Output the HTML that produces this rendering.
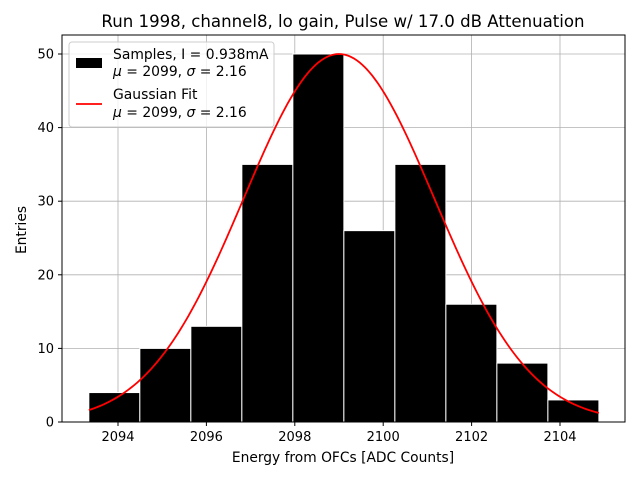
<!DOCTYPE html>
<html><head><meta charset="utf-8"><style>
body{margin:0;background:#fff}
svg text{font-family:"DejaVu Sans","Liberation Sans",sans-serif;fill:#000}
</style></head><body>
<svg id="c" width="640" height="480" xmlns="http://www.w3.org/2000/svg">
<rect width="640" height="480" fill="#fff"/>
<text x="343" y="27" font-size="16.6" text-anchor="middle">Run 1998, channel8, lo gain, Pulse w/ 17.0 dB Attenuation</text>
<g id="grid"></g>
<g id="bars"></g>
<path id="fit" fill="none" stroke="#ff0000" stroke-width="1.8"/>
<rect x="62" y="35" width="563" height="387" fill="none" stroke="#000" stroke-width="1"/>
<g id="ticks"></g>
<text x="343" y="462" font-size="13.8" text-anchor="middle">Energy from OFCs [ADC Counts]</text>
<text transform="translate(26,230) rotate(-90)" font-size="13.8" text-anchor="middle">Entries</text>
<g>
<rect x="69" y="42" width="205" height="85" rx="3" fill="#fff" fill-opacity="0.8" stroke="#ccc"/>
<rect x="76" y="58" width="26" height="10" fill="#000"/>
<text x="113" y="59" font-size="13.9">Samples, I = 0.938mA</text>
<text x="113" y="76" font-size="13.9"><tspan font-style="italic">μ</tspan> = 2099, <tspan font-style="italic">σ</tspan> = 2.16</text>
<line x1="76" y1="104" x2="102" y2="104" stroke="#ff0000" stroke-width="1.8"/>
<text x="113" y="99" font-size="13.9">Gaussian Fit</text>
<text x="113" y="117" font-size="13.9"><tspan font-style="italic">μ</tspan> = 2099, <tspan font-style="italic">σ</tspan> = 2.16</text>
</g>
</svg>
<script>
const binStart = 2093.34;
const binWidth = 1.154;
const counts = [4,10,13,35,50,26,35,16,8,3];
const xTicks = [2094,2096,2098,2100,2102,2104];
const yTicks = [0,10,20,30,40,50];
const fitMean = 2099;
const fitSigma = 2.16;
const fitAmp = 50;
function X(v){return 118+(v-2094)*44.2;}
function Y(v){return 422-v*7.36;}
const NS="http://www.w3.org/2000/svg";
function mk(t,a,p){const e=document.createElementNS(NS,t);for(const k in a)e.setAttribute(k,a[k]);p.appendChild(e);return e;}
const grid=document.getElementById('grid'),bars=document.getElementById('bars'),ticks=document.getElementById('ticks');
xTicks.forEach(t=>{
 const g=mk('line',{x1:X(t),x2:X(t),y1:35,y2:422,stroke:'#b0b0b0','stroke-width':0.8},grid);
 
 
 mk('line',{x1:X(t),x2:X(t),y1:422,y2:426,stroke:'#000'},ticks);
 const l=mk('text',{x:X(t),y:441,'font-size':13,'text-anchor':'middle'},ticks);l.textContent=t;
 
 
});
yTicks.forEach(t=>{
 const g=mk('line',{x1:62,x2:625,y1:Y(t),y2:Y(t),stroke:'#b0b0b0','stroke-width':0.8},grid);
 
 
 mk('line',{x1:58,x2:62,y1:Y(t),y2:Y(t),stroke:'#000'},ticks);
 const l=mk('text',{x:54,y:Y(t)+4.5,'font-size':13,'text-anchor':'end'},ticks);l.textContent=t;
 
 
});
counts.forEach((c,i)=>{
 const x0=X(binStart+i*binWidth),x1=X(binStart+(i+1)*binWidth);
 const r=mk('rect',{x:x0,y:Y(c),width:x1-x0,height:Y(0)-Y(c),fill:'#000',stroke:'#fff','stroke-width':1},bars);
 
 
});
let d='';const a=binStart,b=binStart+counts.length*binWidth;
for(let i=0;i<=200;i++){const v=a+(b-a)*i/200;const y=fitAmp*Math.exp(-((v-fitMean)**2)/(2*fitSigma*fitSigma));d+=(i?'L':'M')+X(v).toFixed(2)+','+Y(y).toFixed(2);}
document.getElementById('fit').setAttribute('d',d);
</script>
</body></html>
